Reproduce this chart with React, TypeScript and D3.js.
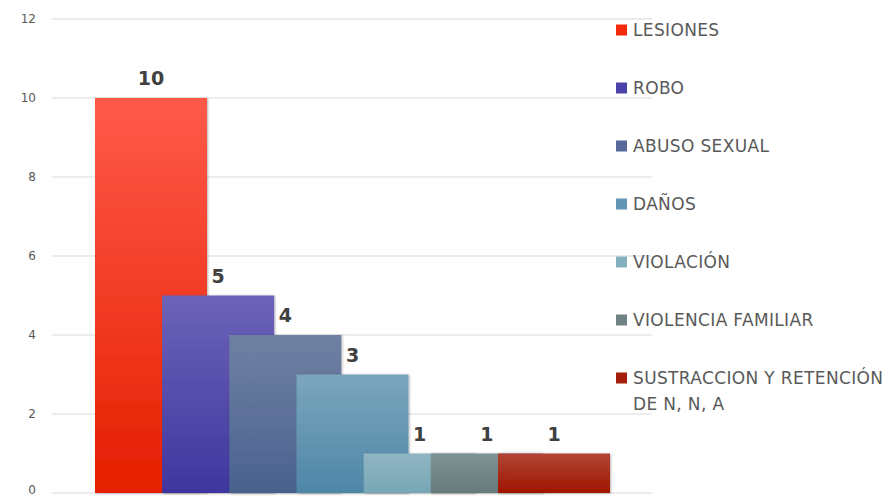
import React from "react";
import * as d3 from "d3";

const categories = [
  "LESIONES",
  "ROBO",
  "ABUSO SEXUAL",
  "DAÑOS",
  "VIOLACIÓN",
  "VIOLENCIA FAMILIAR",
  "SUSTRACCION Y RETENCIÓN DE N, N, A",
];
const values = [10, 5, 4, 3, 1, 1, 1];
const yTicks = [0, 2, 4, 6, 8, 10, 12];
const topColors = ["#FF5a4a", "#6C64B8", "#7081A3", "#7BA6BD", "#8FB5C1", "#7F9395", "#B04636"];
const bottomColors = ["#E51F00", "#3E369F", "#4A618F", "#4E86A7", "#77A7B5", "#657A7C", "#A01500"];
const legendColors = ["#F5290C", "#4A42A8", "#56699A", "#6396B2", "#85B1BE", "#6E8284", "#A41E0C"];
const legendLines = [
  ["LESIONES"],
  ["ROBO"],
  ["ABUSO SEXUAL"],
  ["DAÑOS"],
  ["VIOLACIÓN"],
  ["VIOLENCIA FAMILIAR"],
  ["SUSTRACCION Y RETENCIÓN", "DE N, N, A"],
];

const W = 891;
const H = 497;

export default function App() {
  const y = d3.scaleLinear().domain([0, 12]).range([493, 19]);
  const xLeft = d3.scaleLinear().domain([0, categories.length - 1]).range([95, 498]);
  const barW = 112;
  const legendY = d3.scaleLinear().domain([0, categories.length - 1]).range([30, 378]);
  const font = "'DejaVu Sans', Verdana, sans-serif";

  return (
    <div style={{ position: "fixed", left: 0, top: 0 }}>
      <svg width={W} height={H} style={{ display: "block", background: "#fff" }}>
        <defs>
          {categories.map((c, i) => (
            <linearGradient key={c} id={`g${i}`} x1="0" y1="0" x2="0" y2="1">
              <stop offset="0%" stopColor={topColors[i]} />
              <stop offset="100%" stopColor={bottomColors[i]} />
            </linearGradient>
          ))}
          <filter id="sh" x="-10%" y="-10%" width="120%" height="120%">
            <feDropShadow dx="1" dy="0.5" stdDeviation="1" floodColor="#000" floodOpacity="0.3" />
          </filter>
        </defs>
        {yTicks.map((t) => (
          <g key={t}>
            <line x1={52} x2={652} y1={y(t)} y2={y(t)} stroke="#d9d9d9" strokeWidth={1} />
            <text
              x={36}
              y={Math.min(y(t), 490)}
              dy="0.35em"
              textAnchor="end"
              fontFamily={font}
              fontSize={12}
              fill="#595959"
            >
              {t}
            </text>
          </g>
        ))}
        {categories.map((c, i) => (
          <rect
            key={c}
            x={xLeft(i)}
            y={y(values[i])}
            width={barW}
            height={y(0) - y(values[i])}
            fill={`url(#g${i})`}
            filter="url(#sh)"
          />
        ))}
        {categories.map((c, i) => (
          <text
            key={c}
            x={xLeft(i) + barW / 2}
            y={y(values[i]) - 13}
            textAnchor="middle"
            fontFamily={font}
            fontSize={19}
            fontWeight="bold"
            fill="#404040"
          >
            {values[i]}
          </text>
        ))}
        {categories.map((c, i) => (
          <g key={c}>
            <rect x={616} y={legendY(i) - 5.5} width={11} height={11} fill={legendColors[i]} />
            {legendLines[i].map((ln, j) => (
              <text
                key={j}
                x={633}
                y={legendY(i) + 6 + j * 26}
                fontFamily={font}
                fontSize={17}
                letterSpacing={0.35}
                fill="#595959"
              >
                {ln}
              </text>
            ))}
          </g>
        ))}
      </svg>
    </div>
  );
}
